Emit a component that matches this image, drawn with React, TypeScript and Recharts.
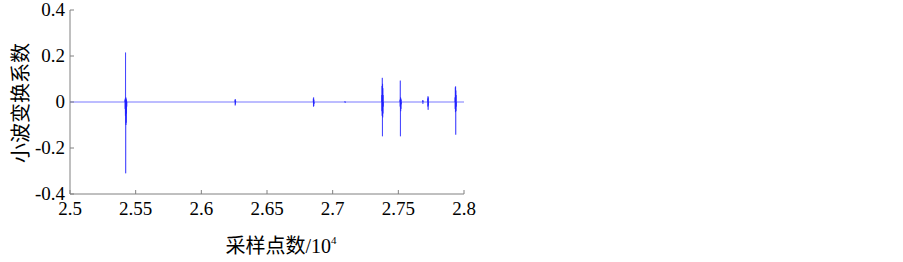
import React from 'react';
import { LineChart, Line, XAxis, YAxis } from 'recharts';

// Sample index (x 10^4) at which each burst of wavelet coefficients starts
const burstStarts = [2.5419, 2.6257, 2.6853, 2.7094, 2.7374, 2.7513, 2.7686, 2.7724, 2.7932];
// Coefficient values of each burst (consecutive samples)
const burst1 = [0.01, -0.03, 0.015, -0.06, 0.215, -0.31, 0.02, -0.1, 0.015, -0.09, 0.01, -0.05, 0.005, -0.02];
const burst2 = [0.01, -0.015, 0.012, -0.01, 0.005];
const burst3 = [0.015, -0.02, 0.02, -0.018, 0.01, -0.008];
const burst4 = [0.004, -0.004];
const burst5 = [0.03, -0.04, 0.07, -0.06, 0.105, -0.149, 0.079, -0.067, 0.06, -0.05, 0.03, -0.02];
const burst6 = [0.01, -0.02, 0.093, -0.149, 0.02, -0.04, 0.015, -0.03, 0.01, -0.01];
const burst7 = [0.008, -0.008, 0.006];
const burst8 = [0.015, -0.02, 0.025, -0.034, 0.02, -0.015];
const burst9 = [0.02, -0.03, 0.064, -0.044, 0.068, -0.142, 0.05, -0.04, 0.03, -0.02];
const bursts = [burst1, burst2, burst3, burst4, burst5, burst6, burst7, burst8, burst9];
const sampleStep = 0.0001; // one sample, in units of 10^4 samples

const xRange = [2.5, 2.8];
const xTicks = [2.5, 2.55, 2.6, 2.65, 2.7, 2.75, 2.8];
const yTicks = [-0.4, -0.2, 0, 0.2, 0.4];

const data: { x: number; y: number }[] = [{ x: xRange[0], y: 0 }];
burstStarts.forEach((s, i) => {
  data.push({ x: s - sampleStep, y: 0 });
  bursts[i].forEach((v, k) => data.push({ x: s + k * sampleStep, y: v }));
  data.push({ x: s + bursts[i].length * sampleStep, y: 0 });
});
data.push({ x: xRange[1], y: 0 });

const AXIS = '#808080';
const FONT = '"Liberation Serif", serif';
const CJK = '"Noto Sans CJK SC", sans-serif';
const TL = 4;
const serifStyle = { fontFamily: FONT, fontSize: 19 };

const BottomTick = (p: any) => (
  <g>
    <line x1={p.x} x2={p.x} y1={p.y} y2={p.y - TL} stroke={AXIS} />
    <text x={p.x} y={p.y + 21} textAnchor="middle" style={serifStyle} fill="#000">
      {String(p.payload.value)}
    </text>
  </g>
);
const TopTick = (p: any) => (
  <line x1={p.x} x2={p.x} y1={p.y} y2={p.y + TL} stroke={AXIS} />
);
const LeftTick = (p: any) => (
  <g>
    <line x1={p.x} x2={p.x + TL} y1={p.y} y2={p.y} stroke={AXIS} />
    <text x={p.x - 5} y={p.y + 6} textAnchor="end" style={serifStyle} fill="#000">
      {String(p.payload.value)}
    </text>
  </g>
);
const RightTick = (p: any) => (
  <line x1={p.x} x2={p.x - TL} y1={p.y} y2={p.y} stroke={AXIS} />
);

export default function App() {
  return (
    <div style={{ position: 'absolute', left: 0, top: 0, width: 903, height: 262, background: '#fff', fontFamily: FONT }}>
      <LineChart width={903} height={262} data={data} margin={{ top: 10, right: 439, bottom: 0, left: 0 }}>
        <XAxis
          xAxisId="b"
          dataKey="x"
          type="number"
          domain={xRange}
          ticks={xTicks}
          allowDataOverflow
          height={68}
          stroke={AXIS}
          tickLine={false}
          tickSize={0}
          tickMargin={0}
          tick={<BottomTick />}
          interval={0}
          label={() => (
            <text x={281} y={253} textAnchor="middle" fill="#000" style={{ fontFamily: CJK, fontSize: 20 }}>
              采样点数
              <tspan style={{ fontFamily: FONT, fontSize: 20 }}>/10</tspan>
              <tspan style={{ fontFamily: FONT, fontSize: 11 }} dy={-9}>4</tspan>
            </text>
          )}
        />
        <XAxis
          xAxisId="t"
          orientation="top"
          dataKey="x"
          type="number"
          domain={xRange}
          ticks={xTicks}
          allowDataOverflow
          height={0}
          stroke={AXIS}
          tickLine={false}
          tickSize={0}
          tickMargin={0}
          tick={<TopTick />}
          interval={0}
        />
        <YAxis
          yAxisId="l"
          type="number"
          domain={[-0.4, 0.4]}
          ticks={yTicks}
          allowDataOverflow
          width={70}
          stroke={AXIS}
          tickLine={false}
          tickSize={0}
          tickMargin={0}
          tick={<LeftTick />}
          interval={0}
          label={() => (
            <text
              x={19}
              y={103}
              transform="rotate(-90, 19, 103)"
              textAnchor="middle"
              dominantBaseline="central"
              fill="#000"
              style={{ fontFamily: CJK, fontSize: 20 }}
            >
              小波变换系数
            </text>
          )}
        />
        <YAxis
          yAxisId="r"
          orientation="right"
          type="number"
          domain={[-0.4, 0.4]}
          ticks={yTicks}
          allowDataOverflow
          width={0}
          stroke={AXIS}
          tickLine={false}
          tickSize={0}
          tickMargin={0}
          tick={<RightTick />}
          interval={0}
        />
        <Line
          xAxisId="b"
          yAxisId="l"
          dataKey="y"
          type="linear"
          stroke="#2020ff"
          strokeWidth={0.6}
          dot={false}
          isAnimationActive={false}
        />
      </LineChart>
    </div>
  );
}
